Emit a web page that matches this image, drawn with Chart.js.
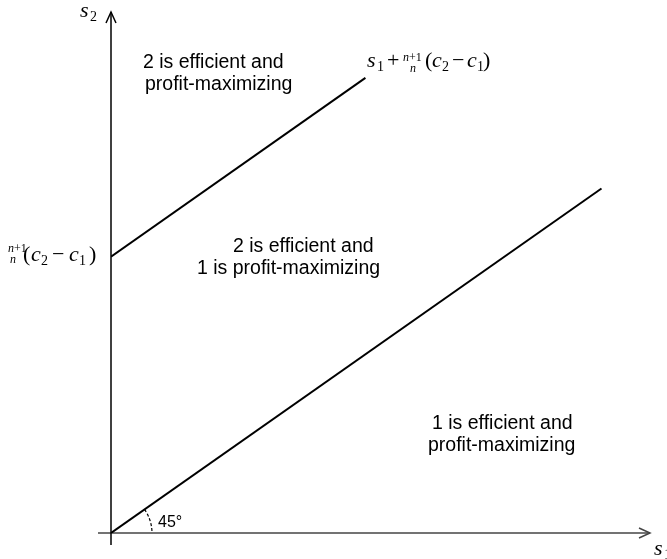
<!DOCTYPE html>
<html>
<head>
<meta charset="utf-8">
<script src="https://cdn.jsdelivr.net/npm/chart.js@4.4.1/dist/chart.umd.min.js"></script>
<style>
  html, body { margin: 0; padding: 0; background: #fff; }
  canvas { display: block; }
</style>
</head>
<body>
<canvas id="myChart" width="667" height="559"></canvas>
<script>
// s1 on the horizontal axis, s2 on the vertical one
const axisMaxX = 10;
const axisMaxY = 13.76;

// 45 degree line: s2 = s1
const diagonalX = [0, 9.1];
const diagonalY = [0, 9.1];

// boundary s2 = s1 + (n+1)/n (c2 - c1)
const upperX = [0, 4.72];
const upperY = [7.3, 12.02];

const regionLabels = [
    { lines: ['2 is efficient and', 'profit-maximizing'], x: [143, 145], y: [68, 90] },
    { lines: ['2 is efficient and', '1 is profit-maximizing'], x: [233, 197], y: [252, 274] },
    { lines: ['1 is efficient and', 'profit-maximizing'], x: [432, 428], y: [429, 451] }
];

const toPoints = (xs, ys) => xs.map((x, i) => ({ x: x, y: ys[i] }));

const SANS = '"Liberation Sans", Arial, sans-serif';
const SERIF = '"Liberation Serif", "Times New Roman", serif';

// draws pieces of a formula at given x positions
function drawPieces(ctx, pieces) {
    ctx.textAlign = 'left';
    ctx.textBaseline = 'alphabetic';
    for (let p of pieces) {
        ctx.font = p.font;
        ctx.fillText(p.t, p.x, p.y);
    }
}

function arrowHead(ctx, x, y, dir) {
    ctx.beginPath();
    if (dir === 'up') {
        ctx.moveTo(x - 5, y + 11);
        ctx.lineTo(x, y);
        ctx.lineTo(x + 5, y + 11);
    } else {
        ctx.moveTo(x - 11, y - 5);
        ctx.lineTo(x, y);
        ctx.lineTo(x - 11, y + 5);
    }
    ctx.stroke();
}

const diagram = {
    id: 'diagram',
    beforeDatasetsDraw(chart) {
        const ctx = chart.ctx;
        const xs = chart.scales.x;
        const ys = chart.scales.y;
        const ox = xs.getPixelForValue(0);
        const oy = ys.getPixelForValue(0);
        const xEnd = xs.getPixelForValue(axisMaxX);
        const yEnd = ys.getPixelForValue(axisMaxY);

        ctx.save();
        ctx.lineCap = 'butt';

        // horizontal axis
        ctx.strokeStyle = '#444';
        ctx.lineWidth = 1.5;
        ctx.beginPath();
        ctx.moveTo(ox - 13, oy);
        ctx.lineTo(xEnd, oy);
        ctx.stroke();
        arrowHead(ctx, xEnd, oy, 'right');

        // vertical axis
        ctx.strokeStyle = '#000';
        ctx.beginPath();
        ctx.moveTo(ox, oy + 12);
        ctx.lineTo(ox, yEnd);
        ctx.stroke();
        arrowHead(ctx, ox, yEnd, 'up');

        // dashed angle mark
        const px = xs.getPixelForValue(diagonalX[1]) - ox;
        const py = oy - ys.getPixelForValue(diagonalY[1]);
        ctx.lineWidth = 1.2;
        ctx.setLineDash([3, 2]);
        ctx.beginPath();
        ctx.arc(ox, oy, 41, -Math.atan2(py, px), 0);
        ctx.stroke();
        ctx.setLineDash([]);
        ctx.restore();
    },
    afterDraw(chart) {
        const ctx = chart.ctx;
        ctx.save();
        ctx.fillStyle = '#000';

        ctx.font = '19.5px ' + SANS;
        ctx.textAlign = 'left';
        ctx.textBaseline = 'alphabetic';
        for (let r of regionLabels) {
            r.lines.forEach((line, i) => ctx.fillText(line, r.x[i], r.y[i]));
        }
        ctx.font = '16px ' + SANS;
        ctx.fillText('45°', 158, 527);

        const it = 'italic 22px ' + SERIF;
        const rg = '22px ' + SERIF;
        const sub = '14px ' + SERIF;
        const fr = '12px ' + SERIF;
        const frIt = 'italic 12px ' + SERIF;

        // axis names
        drawPieces(ctx, [
            { t: 's', font: it, x: 80, y: 17 },
            { t: '2', font: sub, x: 90, y: 21 },
            { t: 's', font: it, x: 654, y: 555 },
            { t: '1', font: sub, x: 664, y: 559 }
        ]);

        // label of the upper boundary
        drawPieces(ctx, [
            { t: 's', font: it, x: 367, y: 67 },
            { t: '1', font: sub, x: 377, y: 71 },
            { t: '+', font: rg, x: 387, y: 67 },
            { t: 'n', font: frIt, x: 403, y: 61 },
            { t: '+1', font: fr, x: 409, y: 61 },
            { t: 'n', font: frIt, x: 410, y: 72 },
            { t: '(', font: rg, x: 425, y: 67 },
            { t: 'c', font: it, x: 432, y: 67 },
            { t: '2', font: sub, x: 442, y: 71 },
            { t: '\u2212', font: rg, x: 452, y: 67 },
            { t: 'c', font: it, x: 467, y: 67 },
            { t: '1', font: sub, x: 477, y: 71 },
            { t: ')', font: rg, x: 483, y: 67 }
        ]);

        // intercept on the s2 axis
        drawPieces(ctx, [
            { t: 'n', font: frIt, x: 8, y: 252 },
            { t: '+1', font: fr, x: 14, y: 252 },
            { t: 'n', font: frIt, x: 10, y: 263 },
            { t: '(', font: rg, x: 23, y: 261 },
            { t: 'c', font: it, x: 31, y: 261 },
            { t: '2', font: sub, x: 41, y: 265 },
            { t: '\u2212', font: rg, x: 52, y: 261 },
            { t: 'c', font: it, x: 69, y: 261 },
            { t: '1', font: sub, x: 79, y: 265 },
            { t: ')', font: rg, x: 89, y: 261 }
        ]);
        ctx.restore();
    }
};

const ctx = document.getElementById('myChart').getContext('2d');
new Chart(ctx, {
    type: 'scatter',
    data: {
        datasets: [{
            data: toPoints(diagonalX, diagonalY),
            showLine: true,
            borderColor: '#000',
            borderWidth: 2,
            pointRadius: 0
        }, {
            data: toPoints(upperX, upperY),
            showLine: true,
            borderColor: '#000',
            borderWidth: 2,
            pointRadius: 0
        }]
    },
    options: {
        responsive: false,
        animation: false,
        layout: { padding: { left: 111, right: 17, top: 12, bottom: 26 } },
        plugins: {
            legend: { display: false },
            tooltip: { enabled: false }
        },
        scales: {
            x: { type: 'linear', min: 0, max: axisMaxX, display: false },
            y: { type: 'linear', min: 0, max: axisMaxY, display: false }
        }
    },
    plugins: [diagram]
});
</script>
</body>
</html>
